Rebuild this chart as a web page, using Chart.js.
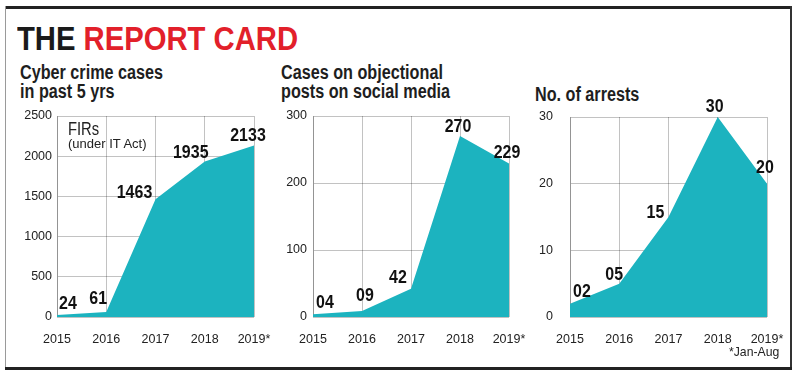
<!DOCTYPE html>
<html>
<head>
<meta charset="utf-8">
<script src="https://cdn.jsdelivr.net/npm/chart.js@4.4.1/dist/chart.umd.min.js"></script>
<style>
  html, body { margin: 0; padding: 0; background: #fff; }
  body { width: 799px; height: 379px; position: relative; overflow: hidden; font-family: "Liberation Sans", Arial, sans-serif; }
  .abs { position: absolute; white-space: nowrap; transform-origin: 0 0; }
  .bar { position: absolute; }
  .title { left: 17px; top: 21px; font-size: 34px; line-height: 34px; font-weight: bold; transform: scaleX(0.86); }
  .title .red { color: #e2202a; }
  .title .blk { color: #1a1a1a; }
  .sub { font-size: 19.5px; line-height: 19px; font-weight: bold; color: #1e1e1e; transform: scaleX(0.83); }
  canvas { position: absolute; top: 92px; }
</style>
</head>
<body>
<div class="bar" style="left:5px;top:6px;width:787px;height:3px;background:#222;"></div>
<div class="bar" style="left:5px;top:6px;width:1px;height:363px;background:#9a9a9a;"></div>
<div class="bar" style="left:790px;top:6px;width:2px;height:363px;background:#333;"></div>
<div class="bar" style="left:5px;top:367px;width:787px;height:3px;background:#222;"></div>

<div class="abs title"><span class="blk">THE </span><span class="red">REPORT CARD</span></div>
<div class="abs sub" style="left:20px;top:63px;">Cyber crime cases<br>in past 5 yrs</div>
<div class="abs sub" style="left:281px;top:63px;">Cases on objectional<br>posts on social media</div>
<div class="abs sub" style="left:535px;top:85px;">No. of arrests</div>

<canvas id="c1" width="279" height="258" style="left:8px;"></canvas>
<canvas id="c2" width="267" height="258" style="left:275px;"></canvas>
<canvas id="c3" width="265" height="258" style="left:535px;"></canvas>

<div class="abs" style="left:68px;top:120px;font-size:18px;line-height:18px;color:#222;transform:scaleX(0.82);">FIRs</div>
<div class="abs" style="left:68px;top:137px;font-size:13px;line-height:14px;color:#222;">(under IT Act)</div>
<div class="abs" style="left:729px;top:344px;font-size:13px;line-height:16px;color:#222;transform:scaleX(0.94);">*Jan-Aug</div>

<script>
// ---- data ----
const categories = ['2015', '2016', '2017', '2018', '2019*'];
const cyberCases = [24, 61, 1463, 1935, 2133];
const objectionalPosts = [4, 9, 42, 270, 229];
const arrests = [2, 5, 15, 30, 20];
const cyberLabels = ['24', '61', '1463', '1935', '2133'];
const postLabels = ['04', '09', '42', '270', '229'];
const arrestLabels = ['02', '05', '15', '30', '20'];
const cyberAxis = { max: 2500, step: 500 };
const postAxis = { max: 300, step: 100 };
const arrestAxis = { max: 30, step: 10 };

// ---- styles ----
const FONT = '"Liberation Sans", Arial, sans-serif';
const FILL = '#1cb3bf';
const GRID = 'rgba(0,0,0,0.24)';
const TEXT = '#222';

const valueLabelPlugin = {
  id: 'valueLabels',
  afterDraw(chart) {
    const cfg = chart.options.plugins.valueLabels;
    if (!cfg) return;
    const ctx = chart.ctx;
    const meta = chart.getDatasetMeta(0);
    meta.data.forEach((pt, i) => {
      const o = cfg.offsets[i];
      ctx.save();
      ctx.font = 'bold 19px ' + FONT;
      ctx.fillStyle = '#111';
      ctx.textAlign = 'center';
      ctx.textBaseline = 'middle';
      ctx.translate(pt.x + o[0], pt.y + o[1]);
      ctx.scale(0.84, 1);
      ctx.fillText(cfg.texts[i], 0, 0);
      ctx.restore();
    });
  }
};

function makeChart(id, values, texts, axis, geo) {
  const ctx = document.getElementById(id).getContext('2d');
  return new Chart(ctx, {
    type: 'line',
    data: {
      labels: categories,
      datasets: [{
        data: values,
        fill: 'origin',
        backgroundColor: FILL,
        borderWidth: 0,
        borderColor: FILL,
        pointRadius: 0,
        tension: 0
      }]
    },
    options: {
      responsive: false,
      animation: false,
      devicePixelRatio: 1,
      layout: { autoPadding: false, padding: { left: 0, right: geo.right, top: geo.top, bottom: 0 } },
      plugins: {
        legend: { display: false },
        tooltip: { enabled: false },
        valueLabels: { texts: texts, offsets: geo.offsets }
      },
      scales: {
        x: {
          z: 1,
          offset: false,
          grid: { color: GRID, drawTicks: false, lineWidth: 1 },
          border: { display: false },
          ticks: { color: TEXT, font: { family: FONT, size: 12.5 }, padding: 15, maxRotation: 0, autoSkip: false },
          afterFit(s) { s.height = geo.xh; }
        },
        y: {
          z: 1,
          min: 0, max: axis.max,
          grid: { color: GRID, drawTicks: false, lineWidth: 1 },
          border: { display: true, color: GRID },
          ticks: { stepSize: axis.step, color: TEXT, font: { family: FONT, size: 12.5 }, padding: geo.ypad, callback: v => String(v) },
          afterFit(s) { s.width = geo.yw; }
        }
      }
    },
    plugins: [valueLabelPlugin]
  });
}

makeChart('c1', cyberCases, cyberLabels, cyberAxis, {
  yw: 49, right: 33, top: 24, xh: 33, ypad: 5,
  offsets: [[11, -11], [-8, -13], [-21, -7], [-14, -9], [-6, -10]]
});
makeChart('c2', objectionalPosts, postLabels, postAxis, {
  yw: 38, right: 33, top: 24, xh: 33, ypad: 6,
  offsets: [[12, -12], [3, -15], [-13, -11], [-2, -9], [-2, -11]]
});
makeChart('c3', arrests, arrestLabels, arrestAxis, {
  yw: 35, right: 33, top: 25, xh: 33, ypad: 17,
  offsets: [[12, -12], [-5, -9], [-13, -4], [-3, -10], [-2, -16]]
});
</script>
</body>
</html>
